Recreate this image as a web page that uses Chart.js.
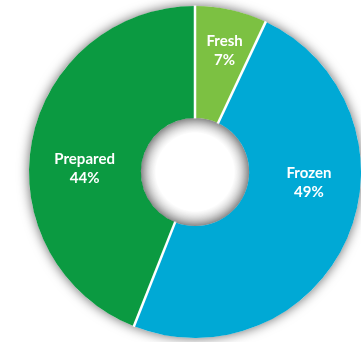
<!DOCTYPE html>
<html>
<head>
<meta charset="utf-8">
<script src="https://cdn.jsdelivr.net/npm/chart.js@4/dist/chart.umd.min.js"></script>
<style>
html,body{margin:0;padding:0;background:#fff;overflow:hidden;}
canvas{display:block;}
</style>
</head>
<body>
<canvas id="c" width="361" height="342"></canvas>
<script>
const categories = ["Fresh", "Frozen", "Prepared"];
const shares = [7, 49, 44];
const sliceColors = ["#7cc142", "#00a9d5", "#0b9a41"];
// label anchor offsets relative to centre, in units of outer radius
const labelOffsets = [[0.178, -0.731], [0.686, 0.062], [-0.665, -0.021]];

const ringShadow = {
  id: 'ringShadow',
  beforeDatasetsDraw(chart) {
    const arc = chart.getDatasetMeta(0).data[0];
    if (!arc) return;
    const {x, y, outerRadius, innerRadius} = arc.getProps(['x','y','outerRadius','innerRadius'], true);
    const ctx = chart.ctx;
    ctx.save();
    ctx.beginPath();
    ctx.arc(x, y, outerRadius, 0, Math.PI * 2);
    ctx.arc(x, y, innerRadius, 0, Math.PI * 2, true);
    ctx.closePath();
    ctx.shadowColor = 'rgba(0,0,0,0.6)';
    ctx.shadowBlur = 12;
    ctx.fillStyle = '#ffffff';
    ctx.fill('evenodd');
    ctx.restore();
  },
  afterDatasetsDraw(chart) {
    const arcs = chart.getDatasetMeta(0).data;
    if (!arcs.length) return;
    const {x, y, innerRadius, outerRadius} = arcs[0].getProps(['x','y','innerRadius','outerRadius'], true);
    const ctx = chart.ctx;
    ctx.save();
    // white separators between slices
    ctx.strokeStyle = '#ffffff';
    ctx.lineWidth = 2.5;
    ctx.lineCap = 'butt';
    arcs.forEach(a => {
      const ang = a.getProps(['startAngle'], true).startAngle;
      ctx.beginPath();
      ctx.moveTo(x + Math.cos(ang) * (innerRadius - 1), y + Math.sin(ang) * (innerRadius - 1));
      ctx.lineTo(x + Math.cos(ang) * (outerRadius + 0.5), y + Math.sin(ang) * (outerRadius + 0.5));
      ctx.stroke();
    });
    // soft inner rim shading in the hole
    const g = ctx.createRadialGradient(x, y, innerRadius * 0.72, x, y, innerRadius);
    g.addColorStop(0, 'rgba(0,0,0,0)');
    g.addColorStop(1, 'rgba(0,0,0,0.22)');
    ctx.beginPath();
    ctx.arc(x, y, innerRadius, 0, Math.PI * 2);
    ctx.fillStyle = g;
    ctx.fill();
    ctx.restore();
  }
};

const sliceLabels = {
  id: 'sliceLabels',
  afterDatasetsDraw(chart) {
    const meta = chart.getDatasetMeta(0);
    const arc = meta.data[0];
    if (!arc) return;
    const {x, y, outerRadius} = arc.getProps(['x','y','outerRadius'], true);
    const ctx = chart.ctx;
    ctx.save();
    ctx.fillStyle = '#ffffff';
    ctx.font = 'bold 15px Lato, "Open Sans", sans-serif';
    ctx.textAlign = 'center';
    ctx.textBaseline = 'middle';
    categories.forEach((name, i) => {
      const cx = x + labelOffsets[i][0] * outerRadius;
      const cy = y + labelOffsets[i][1] * outerRadius;
      ctx.fillText(name, cx, cy - 9.5);
      ctx.fillText(shares[i] + '%', cx, cy + 9.5);
    });
    ctx.restore();
  }
};

new Chart(document.getElementById('c'), {
  type: 'doughnut',
  data: {
    labels: categories,
    datasets: [{
      data: shares,
      backgroundColor: sliceColors,
      borderWidth: 0
    }]
  },
  options: {
    responsive: false,
    animation: false,
    cutout: '32.6%',
    rotation: 0,
    layout: { padding: { left: 29, right: 0, top: 6, bottom: 4 } },
    plugins: { legend: { display: false }, tooltip: { enabled: false } }
  },
  plugins: [ringShadow, sliceLabels]
});
</script>
</body>
</html>
